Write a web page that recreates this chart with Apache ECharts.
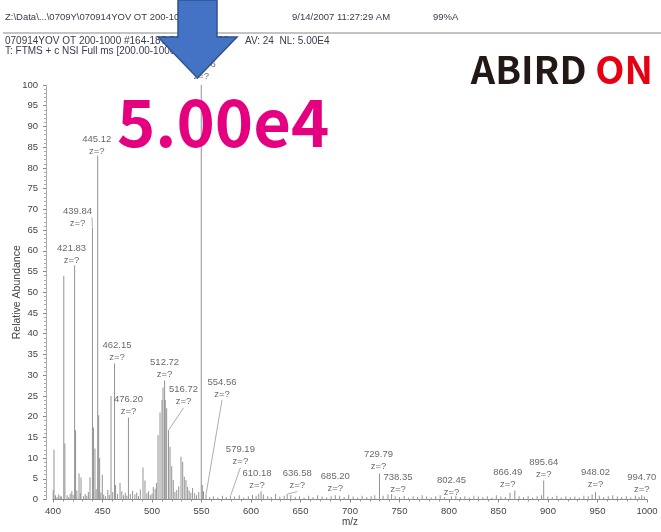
<!DOCTYPE html>
<html>
<head>
<meta charset="utf-8">
<script src="https://cdn.jsdelivr.net/npm/echarts@6/dist/echarts.min.js"></script>
<style>html,body{margin:0;padding:0;background:#fff}#c{width:661px;height:532px}</style>
</head>
<body>
<div id="c"></div>
<script>
// ---- data ----
const labeledMz  = [421.83, 439.84, 445.12, 462.15, 476.20, 512.72, 516.72, 549.76, 554.56, 579.19, 610.18, 636.58, 685.20, 729.79, 738.35, 802.45, 866.49, 895.64, 948.02, 994.70];
const labeledInt = [56.5, 65.5, 83.0, 32.8, 19.8, 28.7, 16.7, 100, 1.2, 0.8, 2.0, 1.3, 1.0, 6.3, 1.2, 0.8, 2.2, 4.6, 1.8, 1.0];
const chargeText = 'z=?';

const otherMz  = [400.2, 401.0, 410.9, 412.0, 422.8, 426.3, 428.3, 437.4, 440.85, 442.4, 446.12, 447.1, 449.8, 458.6, 463.2, 467.7, 490.9, 492.9,
                  501.3, 506.1, 508.1, 510.1, 511.1, 513.4, 514.8, 518.2, 519.9, 521.5, 525.0, 529.3, 531.0, 532.6, 534.3, 550.8];
const otherInt = [2.3, 12.0, 54.0, 13.5, 16.7, 6.3, 5.3, 5.3, 17.4, 12.3, 20.3, 10.0, 6.0, 25.0, 3.5, 4.0, 7.7, 4.6,
                  3.0, 15.5, 21.0, 24.0, 27.0, 24.0, 22.0, 12.7, 8.0, 4.7, 2.3, 10.3, 9.1, 5.5, 4.7, 3.5];

const noiseMz  = [402.5, 404.1, 405.8, 407.3, 408.6, 414.2, 415.9, 417.4, 419.0, 420.3, 424.1, 427.6, 430.8, 432.5, 434.1, 435.7, 443.6, 448.3,
                  451.2, 453.0, 455.4, 456.8, 460.3, 465.2, 469.5, 471.3, 473.0, 474.6, 478.1, 480.4, 482.7, 484.6, 486.3, 488.2, 494.8, 496.5,
                  498.3, 500.0, 503.2, 504.6, 523.2, 527.0, 536.0, 537.5, 539.2, 541.0, 543.1, 545.0, 547.2, 552.0,
                  558.3, 562.0, 566.5, 571.2, 575.0, 583.4, 588.1, 592.6, 597.3, 601.5, 605.2, 607.8, 612.5, 616.9, 620.4, 624.8, 629.1, 633.5,
                  640.2, 644.7, 649.0, 653.6, 658.2, 662.7, 667.3, 671.8, 676.4, 680.9, 689.6, 694.1, 698.7, 703.2, 707.8, 712.3, 716.9, 721.4,
                  725.0, 733.4, 742.0, 745.6, 750.1, 754.7, 759.2, 763.8, 768.3, 772.9, 777.4, 782.0, 786.5, 791.1, 795.6, 806.9, 811.4, 816.0,
                  820.5, 825.1, 829.6, 834.2, 838.7, 843.3, 847.8, 852.4, 856.9, 861.6, 870.8, 875.3, 879.9, 884.4, 889.0, 893.5, 899.8, 904.3,
                  908.9, 913.4, 918.0, 922.5, 927.1, 931.6, 936.2, 940.7, 944.6, 951.8, 956.3, 960.9, 965.4, 970.0, 974.5, 979.1, 983.6, 988.2,
                  992.0, 997.3];
const noiseInt = [1.0, 0.6, 1.2, 0.8, 0.7, 1.0, 0.6, 1.4, 2.0, 1.1, 2.2, 1.5, 0.8, 1.3, 0.9, 1.8, 2.5, 1.7,
                  1.2, 0.8, 2.3, 1.1, 1.8, 1.4, 2.0, 1.0, 1.6, 0.9, 1.3, 2.1, 1.2, 1.7, 0.8, 2.4, 1.5, 2.0,
                  1.0, 1.4, 2.6, 4.0, 1.8, 3.2, 3.0, 2.2, 1.6, 2.8, 1.5, 1.0, 1.8, 2.0,
                  0.6, 0.8, 0.5, 0.9, 0.6, 0.7, 1.0, 0.5, 0.8, 1.1, 0.9, 1.4, 1.2, 0.8, 0.6, 1.3, 0.7, 0.9,
                  1.1, 0.6, 0.8, 0.5, 0.9, 0.6, 1.0, 0.7, 0.5, 0.8, 0.9, 0.6, 1.1, 0.7, 0.5, 0.9, 0.6, 0.8,
                  1.0, 0.9, 1.3, 0.8, 0.6, 0.9, 0.5, 0.8, 0.6, 1.0, 0.7, 0.5, 0.8, 1.0, 0.6, 0.9, 0.6, 0.8,
                  0.5, 0.9, 0.7, 0.6, 0.8, 0.5, 1.0, 0.7, 0.6, 1.6, 0.8, 0.6, 0.9, 0.5, 0.8, 1.0, 0.7, 0.6,
                  0.9, 0.5, 0.8, 0.6, 0.7, 0.5, 0.9, 0.8, 1.2, 0.9, 0.6, 0.8, 1.0, 0.7, 0.6, 0.8, 0.5, 0.9,
                  0.6, 0.7];

const xTicks = {min: 400, max: 1000, step: 50};
const yTicks = {min: 0, max: 100, step: 5};

// ---- layout / style (not data) ----
const labelOffsets = [[-3,2],[-15,2],[-1,2],[2.5,0],[0,0],[0,0],[15,-22],[0,-2],[16,-94],[10,-28],[-4,1],[10,-2],[0,0],[-1,-1],[10,1],[0,3],[-7,0],[0,0],[0,-1],[0,1]];
const leaderIdx = [1, 6, 8, 9, 11];

const barData = [];
labeledMz.forEach((m, i) => barData.push([m, labeledInt[i]]));
otherMz.forEach((m, i) => barData.push([m, otherInt[i]]));
noiseMz.forEach((m, i) => barData.push([m, noiseInt[i]]));

const labelData = labeledMz.map((m, i) => {
  const d = {value: [m, labeledInt[i]]};
  if (leaderIdx.indexOf(i) >= 0) d.labelLine = {show: true};
  return d;
});

const txt = '#3a3a50';
const F = 'Liberation Sans, Arial, sans-serif';
const chart = echarts.init(document.getElementById('c'));
chart.setOption({
  animation: false,
  backgroundColor: '#fff',
  grid: {left: 53, right: 14, top: 85, bottom: 32.5, containLabel: false, outerBoundsMode: 'none'},
  xAxis: {
    type: 'value', min: xTicks.min, max: xTicks.max, interval: xTicks.step,
    name: 'm/z', nameLocation: 'middle', nameGap: 18, nameMoveOverlap: false,
    nameTextStyle: {fontSize: 10, color: '#444', fontFamily: F},
    axisLine: {show: true, lineStyle: {color: '#888', width: 1}},
    axisTick: {show: true, length: 3, lineStyle: {color: '#888'}},
    minorTick: {show: true, splitNumber: 5, length: 2, lineStyle: {color: '#999'}},
    axisLabel: {fontSize: 9.5, color: '#444', margin: 7, fontFamily: F, formatter: v => String(v)},
    splitLine: {show: false}
  },
  yAxis: {
    type: 'value', min: yTicks.min, max: yTicks.max, interval: yTicks.step, offset: 7,
    name: 'Relative Abundance', nameLocation: 'middle', nameGap: 23, nameRotate: 90, nameMoveOverlap: false,
    nameTextStyle: {fontSize: 10.5, color: '#444', fontFamily: F},
    axisLine: {show: true, lineStyle: {color: '#aaa', width: 1}},
    axisTick: {show: true, length: 3, lineStyle: {color: '#888'}},
    minorTick: {show: true, splitNumber: 5, length: 2, lineStyle: {color: '#aaa'}},
    axisLabel: {fontSize: 9.5, color: '#444', margin: 8, fontFamily: F},
    splitLine: {show: false}
  },
  series: [
    {
      type: 'bar', data: barData, barWidth: 1, z: 2,
      itemStyle: {color: '#939393'}, silent: true
    },
    {
      type: 'scatter', data: labelData, symbolSize: 1, z: 3,
      itemStyle: {color: 'rgba(0,0,0,0)'},
      label: {
        show: true, position: 'top', distance: 0,
        fontSize: 9.5, lineHeight: 12, color: '#444', fontFamily: F, align: 'center',
        formatter: p => p.value[0].toFixed(2) + '\n' + chargeText
      },
      labelLine: {show: false, lineStyle: {color: '#999', width: 0.8}},
      labelLayout: p => ({dx: labelOffsets[p.dataIndex][0], dy: labelOffsets[p.dataIndex][1]})
    }
  ],
  graphic: [
    {type: 'text', z: 50, style: {text: 'Z:\\Data\\...\\0709Y\\070914YOV OT 200-1000', x: 5, y: 17, fontSize: 9.5, fill: txt, fontFamily: F, verticalAlign: 'middle'}},
    {type: 'text', z: 50, style: {text: '9/14/2007 11:27:29 AM', x: 292, y: 17, fontSize: 9.5, fill: txt, fontFamily: F, verticalAlign: 'middle'}},
    {type: 'text', z: 50, style: {text: '99%A', x: 433, y: 17, fontSize: 9.5, fill: txt, fontFamily: F, verticalAlign: 'middle'}},
    {type: 'line', z: 50, shape: {x1: 3, y1: 33, x2: 661, y2: 33}, style: {stroke: '#c4c4c4', lineWidth: 2}},
    {type: 'text', z: 50, style: {text: '070914YOV OT 200-1000 #164-187 RT: 1.20-1.38', x: 5, y: 41, fontSize: 10, fill: txt, fontFamily: F, verticalAlign: 'middle'}},
    {type: 'text', z: 50, style: {text: 'AV: 24  NL: 5.00E4', x: 245, y: 41, fontSize: 10, fill: txt, fontFamily: F, verticalAlign: 'middle'}},
    {type: 'text', z: 50, style: {text: 'T: FTMS + c NSI Full ms [200.00-1000.00]', x: 5, y: 51, fontSize: 10, fill: txt, fontFamily: F, verticalAlign: 'middle'}},
    {type: 'polygon', z: 100, shape: {points: [[178,0],[217,0],[217,37],[237,37],[197.5,78],[158,37],[178,37]]},
     style: {fill: '#4472C4', stroke: '#2F528F', lineWidth: 1.5}},
    {type: 'text', z: 90, style: {text: '5.00e4', x: 117, y: 122, fontSize: 65, fontWeight: 'bold', fill: '#E4007F', fontFamily: 'Noto Sans CJK JP', verticalAlign: 'middle'}},
    {type: 'text', z: 90, style: {
      text: '{a|ABIRD }{b|ON}', x: 653, y: 70, align: 'right', verticalAlign: 'middle',
      rich: {
        a: {fontSize: 38, fontWeight: 'bold', fill: '#231815', fontFamily: 'Noto Sans CJK JP'},
        b: {fontSize: 38, fontWeight: 'bold', fill: '#E60012', fontFamily: 'Noto Sans CJK JP'}
      }}}
  ]
});
</script>
</body>
</html>
